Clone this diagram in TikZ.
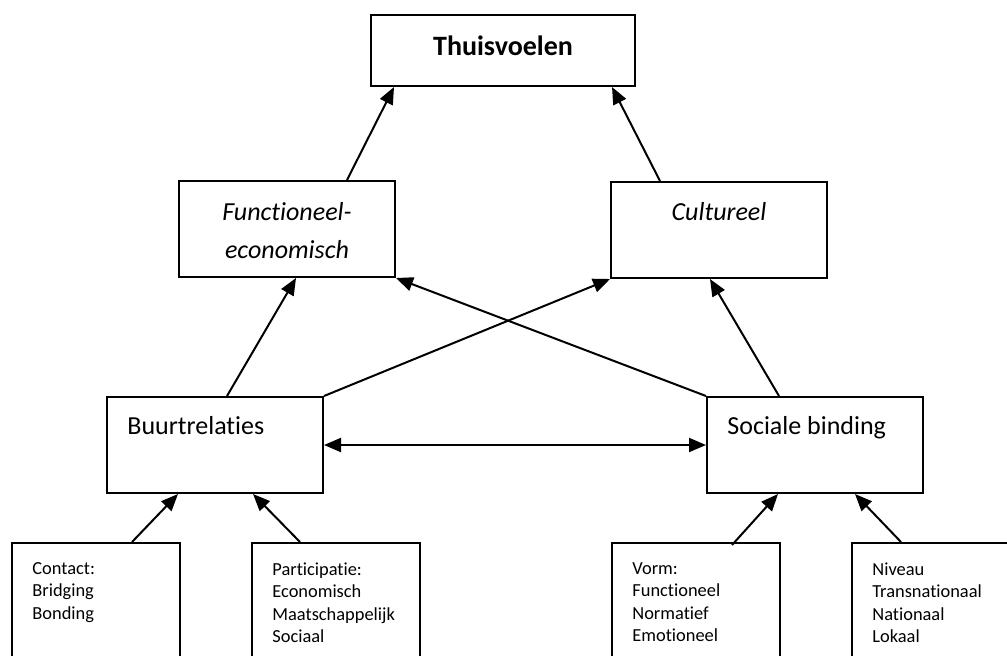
\documentclass[tikz,border=0pt]{standalone}
\usepackage{fontspec}
\setmainfont{Carlito}[Ligatures=NoCommon]
\usetikzlibrary{arrows.meta}

\begin{document}
\begin{tikzpicture}[x=0.5pt,y=-0.5pt,
  box/.style={draw,line width=1pt,minimum width=108pt,minimum height=48pt,inner sep=0pt},
  lowbox/.style={draw,line width=1pt,minimum width=84pt,minimum height=80pt,inner sep=0pt,anchor=north west},
  big/.style={inner sep=0pt,font=\fontsize{13}{19}\selectfont},
  small/.style={inner sep=0pt,anchor=north west,align=left,font=\fontsize{9.2}{11.25}\selectfont},
  pijl/.style={line width=1pt,-{Triangle[length=8.5pt,width=7pt]}}]
\def\dx{10.5pt} %text inset from the left edge
\def\dy{-10pt} %text inset from the top edge
\useasboundingbox (0,0) rectangle (1007,655);
\clip (0,0) rectangle (1007,655); %lower boxes run off the page

% top
\node[box,minimum width=132pt,minimum height=35.5pt] (thuis) at (503,50.5) {};
\node[big,anchor=north,font=\fontsize{14}{17}\selectfont\bfseries] (thuis-txt)
  at ([yshift=-10.5pt]thuis.north) {Thuisvoelen};

% middle row
\node[box] (func) at (287,229) {};
\node[big,anchor=north,align=center,font=\fontsize{13}{19}\selectfont\itshape] (func-txt)
  at ([yshift=-11pt]func.north) {Functioneel-\\economisch};
\node[box] (cult) at (719,230) {};
\node[big,anchor=north,font=\fontsize{13}{19}\selectfont\itshape] (cult-txt)
  at ([yshift=-10.5pt]cult.north) {Cultureel};

% third row
\node[box] (buurt) at (215,445) {};
\node[big,anchor=north west] (buurt-txt) at ([xshift=\dx,yshift=\dy]buurt.north west) {Buurtrelaties};
\node[box] (soc) at (815,445) {};
\node[big,anchor=north west] (soc-txt) at ([xshift=\dx,yshift=\dy]soc.north west) {Sociale binding};

% bottom row, given by left edge
\foreach \nm/\xx/\txt in {contact/11/{Contact:\\Bridging\\Bonding},
                           partic/251/{Participatie:\\Economisch\\Maatschappelijk\\Sociaal},
                           vorm/611/{Vorm:\\Functioneel\\Normatief\\Emotioneel},
                           niveau/851/{Niveau\\Transnationaal\\Nationaal\\Lokaal}}
{
\node[lowbox] (\nm) at (\xx,542) {};
\node[small] (\nm-txt) at ([xshift=\dx,yshift=\dy]\nm.north west) {\txt};
}

% arrows
\draw[pijl] ([xshift=30pt]func.north) -- ([xshift=-54.5pt]thuis.south);
\draw[pijl] ([xshift=-29.5pt]cult.north) -- ([xshift=54.5pt]thuis.south);
\draw[pijl] ([xshift=6pt]buurt.north) -- ([xshift=4.5pt]func.south);
\draw[pijl] (buurt.north east) -- (cult.south west);
\draw[pijl] (soc.north west) -- (func.south east);
\draw[pijl] ([xshift=-18pt]soc.north) -- ([xshift=-4.5pt]cult.south);
\draw[pijl,{Triangle[length=8.5pt,width=7pt]}-{Triangle[length=8.5pt,width=7pt]}] (buurt.east) -- (soc.west);
\draw[pijl] ([xshift=18pt]contact.north) -- ([xshift=-18.5pt]buurt.south);
\draw[pijl] ([xshift=-18pt]partic.north) -- ([xshift=19pt]buurt.south);
\draw[pijl] ([xshift=18pt,yshift=-1.5pt]vorm.north) -- ([xshift=-18.5pt]soc.south);
\draw[pijl] ([xshift=-17.5pt]niveau.north) -- ([xshift=20pt]soc.south);
\end{tikzpicture}
\end{document}
